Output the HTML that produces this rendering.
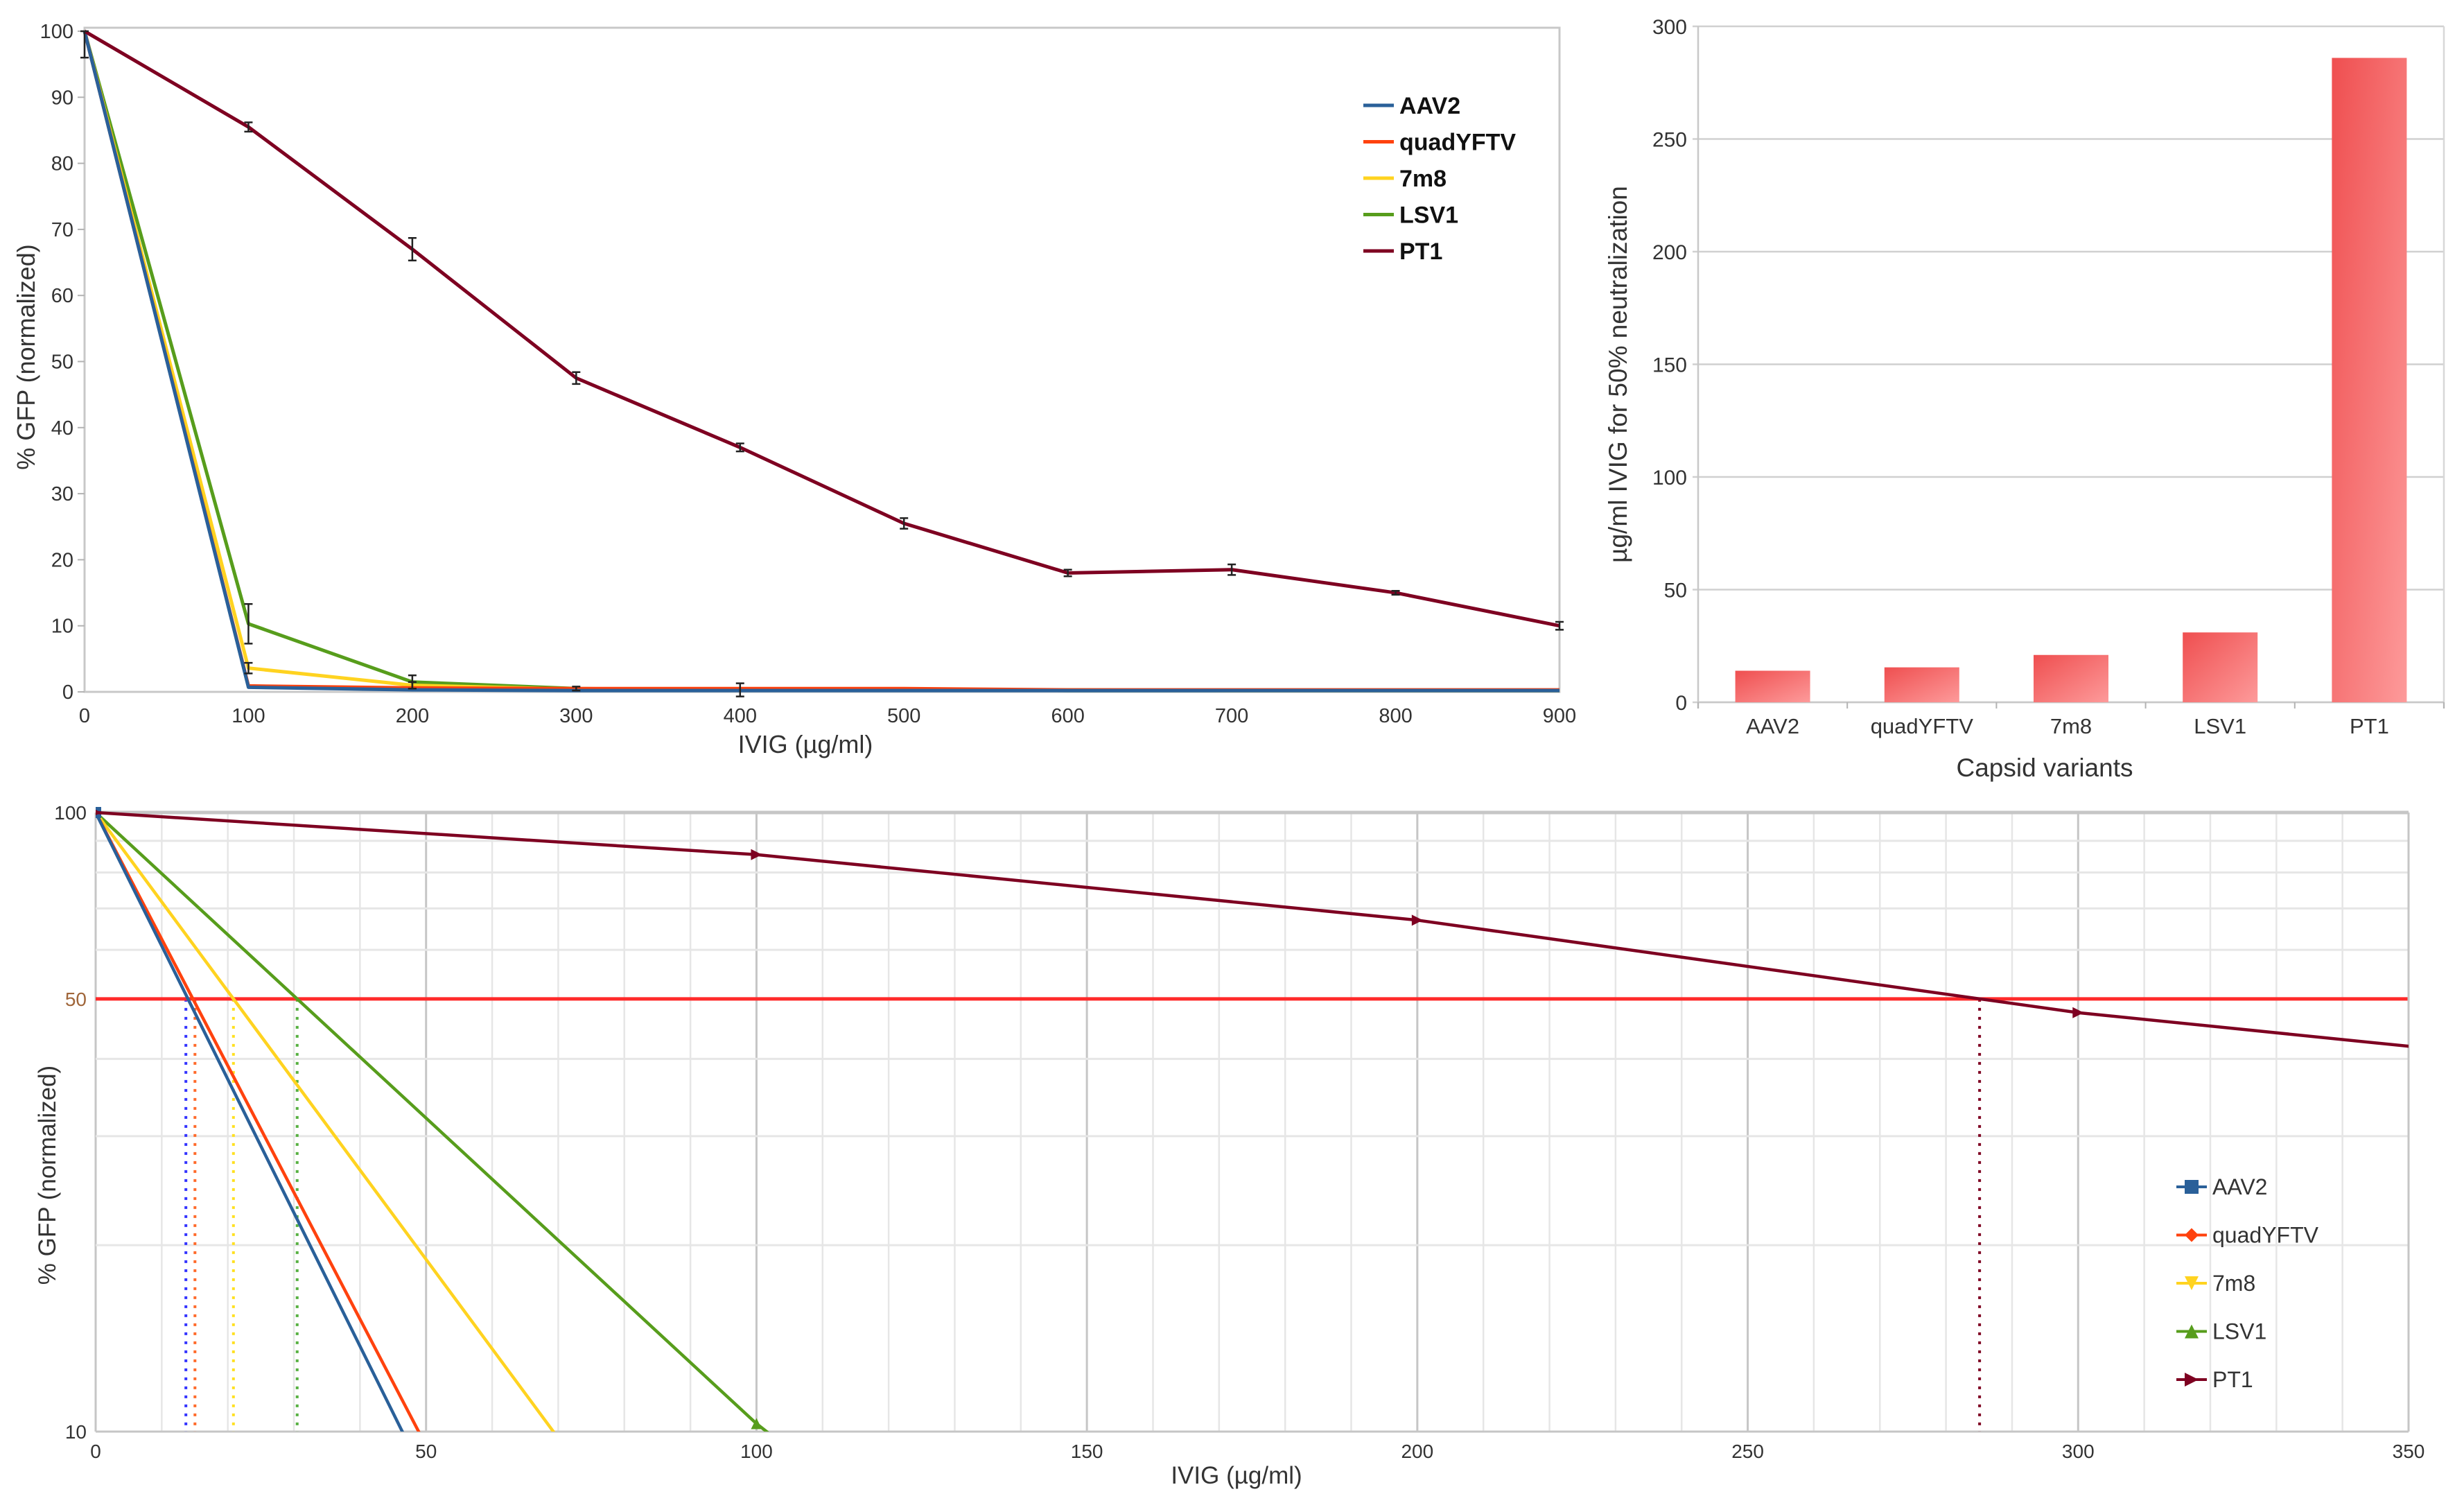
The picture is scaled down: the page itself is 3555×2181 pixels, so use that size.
<!DOCTYPE html>
<html><head><meta charset="utf-8"><style>
html,body{margin:0;padding:0;background:#fff;width:3555px;height:2181px;overflow:hidden}
svg{display:block;font-family:"Liberation Sans",sans-serif;position:absolute;left:0;top:0}
</style></head><body>
<svg id="root" width="3555" height="2181" viewBox="0 0 3555 2181" xmlns="http://www.w3.org/2000/svg">
<defs>
<linearGradient id="barg" x1="0" y1="0" x2="1" y2="1">
<stop offset="0" stop-color="#ef4f50"/><stop offset="1" stop-color="#fd9a9a"/>
</linearGradient>
<clipPath id="bclip"><rect x="138" y="1162" width="3337" height="903"/></clipPath>
</defs>
<g id="top"></g>
<g id="bar"></g>
<g id="bot"></g>
</svg>
<script>
const doses = [0,100,200,300,400,500,600,700,800,900];
const seriesNames = ["AAV2","quadYFTV","7m8","LSV1","PT1"];
const aav2 = [100,0.7,0.3,0.2,0.2,0.2,0.2,0.2,0.2,0.2];
const quad = [100,0.9,0.6,0.5,0.5,0.5,0.3,0.3,0.3,0.3];
const m78 = [100,3.6,1,0.4,0.3,0.3,0.3,0.2,0.2,0.2];
const lsv1 = [100,10.3,1.5,0.5,0.3,0.3,0.2,0.2,0.2,0.2];
const pt1 = [100,85.5,67,47.5,37,25.5,18,18.5,15,10];
const errLsv1 = [0,3,1,0.3,0,0,0,0,0,0];
const errPt1 = [4,0.7,1.7,0.9,0.6,0.8,0.5,0.8,0.3,0.6];
const errM78 = [0,0.8,0.5,0,1,0,0,0,0,0];
const yTicksTop = [0,10,20,30,40,50,60,70,80,90,100];
const barValues = [14,15.5,21,31,286];
const barTicks = [0,50,100,150,200,250,300];
const botXTicks = [0,50,100,150,200,250,300,350];
const botYGrid = [10,20,30,40,50,60,70,80,90,100];
const colors = ["#2a6099","#ff420e","#ffd320","#579d1c","#7e0021"];
const allSeries = [aav2,quad,m78,lsv1,pt1];

const NS="http://www.w3.org/2000/svg";
function mk(parent,tag,attrs,text){const e=document.createElementNS(NS,tag);for(const k in attrs)e.setAttribute(k,attrs[k]);if(text!==undefined)e.textContent=text;parent.appendChild(e);return e;}

/* ---------- TOP LINE CHART ---------- */
const T=document.getElementById('top');
const tx=v=>122+(2250-122)*v/900, ty=v=>998-(998-45)*v/100;
let e;
e=mk(T,'rect',{x:122,y:40,width:2128,height:958,fill:'none',stroke:'#c8c8c8','stroke-width':3});

yTicksTop.forEach(v=>{
 e=mk(T,'text',{x:106,y:ty(v)+10,'text-anchor':'end','font-size':29,fill:'#333'},String(v));
 
 mk(T,'line',{x1:112,x2:122,y1:ty(v),y2:ty(v),stroke:'#b3b3b3','stroke-width':2});
});
doses.forEach(v=>{
 e=mk(T,'text',{x:tx(v),y:1042,'text-anchor':'middle','font-size':29,fill:'#333'},String(v));
 
});
e=mk(T,'text',{x:1162,y:1086,'text-anchor':'middle','font-size':36,fill:'#333'},'IVIG (µg/ml)');

e=mk(T,'text',{x:0,y:0,'text-anchor':'middle','font-size':36,fill:'#333',transform:'translate(50,515) rotate(-90)'},'% GFP (normalized)');

[3,2,1,0,4].forEach(i=>{
 const d=allSeries[i].map((v,j)=>(j?'L':'M')+tx(doses[j])+','+ty(v)).join(' ');
 e=mk(T,'path',{d:d,fill:'none',stroke:colors[i],'stroke-width':5,'stroke-linejoin':'round'});
 
});
function errbars(vals,errs){vals.forEach((v,j)=>{if(!errs[j])return;const x=tx(doses[j]),a=ty(Math.min(100,v+errs[j])),b=ty(v-errs[j]);
 e=mk(T,'path',{d:`M${x},${a}V${b}M${x-6},${a}H${x+6}M${x-6},${b}H${x+6}`,stroke:'#222','stroke-width':2.5,fill:'none'});
 });}
errbars(pt1,errPt1);errbars(lsv1,errLsv1);errbars(m78,errM78);
seriesNames.forEach((n,i)=>{
 const y=152+i*52.5;
 e=mk(T,'line',{x1:1967,x2:2011,y1:y,y2:y,stroke:colors[i],'stroke-width':5});
 
 e=mk(T,'text',{x:2019,y:y+12,'font-size':34,'font-weight':'bold',fill:'#111'},n);
 
});

/* ---------- BAR CHART ---------- */
const B=document.getElementById('bar');
const bx0=2450,bx1=3526,by=v=>1013-(1013-38)*v/300,bw=(bx1-bx0)/5;
barTicks.forEach(v=>{
 e=mk(B,'line',{x1:bx0-8,x2:bx1,y1:by(v),y2:by(v),stroke:'#d0d0d0','stroke-width':2.5});
 
 e=mk(B,'text',{x:2434,y:by(v)+11,'text-anchor':'end','font-size':30,fill:'#333'},String(v));
 
});
mk(B,'line',{x1:bx0,x2:bx0,y1:38,y2:1022,stroke:'#c8c8c8','stroke-width':2.5});
mk(B,'line',{x1:bx1,x2:bx1,y1:38,y2:1022,stroke:'#d8d8d8','stroke-width':2.5});
mk(B,'line',{x1:bx0,x2:bx1,y1:1013,y2:1013,stroke:'#c8c8c8','stroke-width':2.5});
for(let i=0;i<=5;i++)mk(B,'line',{x1:bx0+i*bw,x2:bx0+i*bw,y1:1013,y2:1022,stroke:'#b3b3b3','stroke-width':2});
barValues.forEach((v,i)=>{
 const cx=bx0+bw*(i+0.5);
 e=mk(B,'rect',{x:cx-54,y:by(v),width:108,height:by(0)-by(v),fill:'url(#barg)'});
 
 e=mk(B,'text',{x:cx,y:1058,'text-anchor':'middle','font-size':31,fill:'#333'},seriesNames[i]);
 
});
e=mk(B,'text',{x:2950,y:1120,'text-anchor':'middle','font-size':37,fill:'#333'},'Capsid variants');

e=mk(B,'text',{x:0,y:0,'text-anchor':'middle','font-size':37,fill:'#333',transform:'translate(2347,540) rotate(-90)'},'µg/ml IVIG for 50% neutralization');


/* ---------- BOTTOM LOG CHART ---------- */
const G=document.getElementById('bot');
const L0=138,L1=3475,Ytop=1172,Ybot=2065;
const lx=v=>L0+(L1-L0)*v/350, ly=v=>Ytop+(Ybot-Ytop)*(2-Math.log10(v));
for(let v=0;v<=350;v+=10){
 e=mk(G,'line',{x1:lx(v),x2:lx(v),y1:Ytop,y2:Ybot,stroke:v%50===0?'#c6c6c6':'#e6e6e6','stroke-width':v%50===0?3:2.5});
 
}
botYGrid.forEach(v=>{
 e=mk(G,'line',{x1:L0,x2:L1,y1:ly(v),y2:ly(v),stroke:(v===10||v===100)?'#c6c6c6':'#e6e6e6','stroke-width':(v===100)?5:3});
 
});
[[100,'#333'],[50,'#a0663a'],[10,'#333']].forEach(([v,c])=>{
 e=mk(G,'text',{x:125,y:ly(v)+10,'text-anchor':'end','font-size':28,fill:c},String(v));
 
});
botXTicks.forEach(v=>{
 e=mk(G,'text',{x:lx(v),y:2103,'text-anchor':'middle','font-size':28,fill:'#333'},String(v));
 
});
e=mk(G,'text',{x:1784,y:2140,'text-anchor':'middle','font-size':35,fill:'#333'},'IVIG (µg/ml)');

e=mk(G,'text',{x:0,y:0,'text-anchor':'middle','font-size':35,fill:'#333',transform:'translate(80,1695) rotate(-90)'},'% GFP (normalized)');

function cross50(s){for(let j=1;j<s.length;j++){if(s[j]<=50){const a=Math.log10(s[j-1]),b=Math.log10(s[j]);return doses[j-1]+(doses[j]-doses[j-1])*(a-Math.log10(50))/(a-b);}}return null;}
const dotCol=["#3333ff","#ff6a2a","#ffe020","#56b040","#7e0021"];
const dotOff=[-3,3,0,0,0];
allSeries.forEach((s,i)=>{
 const c=cross50(s);const x=lx(c)+dotOff[i];
 e=mk(G,'line',{x1:x,x2:x,y1:ly(50),y2:Ybot,stroke:dotCol[i],'stroke-width':4,'stroke-dasharray':'4 9'});
 
});
e=mk(G,'line',{x1:L0,x2:L1,y1:ly(50),y2:ly(50),stroke:'#ff2a2a','stroke-width':5});

mk(G,'line',{x1:L1,x2:L1,y1:Ytop,y2:Ybot,stroke:'#c6c6c6','stroke-width':3});
function marker(g,i,x,y,r){let d;
 if(i===0)d=`M${x-r},${y-r}h${2*r}v${2*r}h${-2*r}z`;
 else if(i===1)d=`M${x},${y-r}L${x+r},${y}L${x},${y+r}L${x-r},${y}z`;
 else if(i===2)d=`M${x-r},${y-r}H${x+r}L${x},${y+r}z`;
 else if(i===3)d=`M${x-r},${y+r}H${x+r}L${x},${y-r}z`;
 else d=`M${x-r},${y-r}L${x+r},${y}L${x-r},${y+r}z`;
 return mk(g,'path',{d:d,fill:colors[i]});}
const clipG=mk(G,'g',{'clip-path':'url(#bclip)'});
[3,2,1,0,4].forEach(i=>{
 const s=allSeries[i];
 const d=s.map((v,j)=>(j?'L':'M')+lx(doses[j])+','+ly(v)).join(' ');
 e=mk(clipG,'path',{d:d,fill:'none',stroke:colors[i],'stroke-width':4.5});
 
 s.forEach((v,j)=>{if(v>=9.9&&doses[j]<=350){e=marker(clipG,i,lx(doses[j]),ly(v),8);
  }});
});
seriesNames.forEach((n,i)=>{
 const y=1712+i*69.5;
 e=mk(G,'line',{x1:3140,x2:3184,y1:y,y2:y,stroke:colors[i],'stroke-width':4});
 
 e=marker(G,i,3162,y,10);
 e=mk(G,'text',{x:3192,y:y+11,'font-size':32,fill:'#333'},n);
 
});
</script>
</body></html>
